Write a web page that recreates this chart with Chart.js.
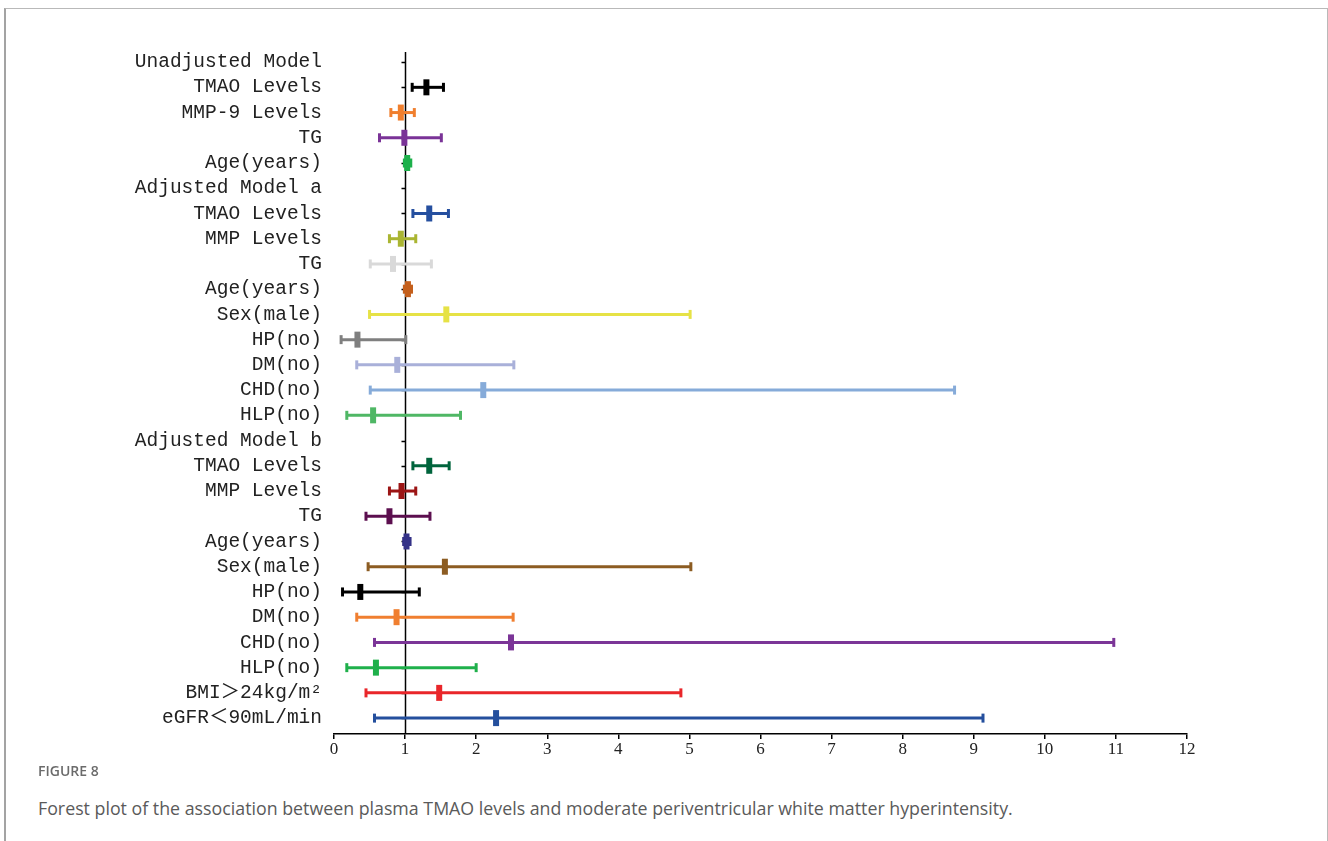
<!DOCTYPE html>
<html>
<head>
<meta charset="utf-8">
<script src="https://cdn.jsdelivr.net/npm/chart.js@4.4.1/dist/chart.umd.min.js"></script>
<style>
  html, body { margin: 0; padding: 0; background: #fff; }
  body { width: 1328px; height: 841px; position: relative; overflow: hidden; }
  .frame {
    position: absolute; left: 4px; top: 8px; width: 1321px; height: 900px;
    border: 1px solid #b9b9b9; border-left: 2px solid #a3a3a3; border-bottom: none;
  }
  #forest { position: absolute; left: 0; top: 0; }
  .fig-no {
    position: absolute; left: 38px; top: 761px;
    font-family: "Open Sans", sans-serif; font-size: 14px; font-weight: 600; color: #6b6b6b;
  }
  .fig-cap {
    position: absolute; left: 38px; top: 796px;
    font-family: "Open Sans", sans-serif; font-size: 17.8px; color: #5a5a5a;
  }
</style>
</head>
<body>
<div class="frame"></div>
<canvas id="forest" width="1328" height="780"></canvas>
<div class="fig-no">FIGURE 8</div>
<div class="fig-cap">Forest plot of the association between plasma TMAO levels and moderate periventricular white matter hyperintensity.</div>

<script>
// rows top to bottom; model headers have no estimate
const rowLabels = [
  "Unadjusted Model", "TMAO Levels", "MMP-9 Levels", "TG", "Age(years)",
  "Adjusted Model a", "TMAO Levels", "MMP Levels", "TG", "Age(years)",
  "Sex(male)", "HP(no)", "DM(no)", "CHD(no)", "HLP(no)",
  "Adjusted Model b", "TMAO Levels", "MMP Levels", "TG", "Age(years)",
  "Sex(male)", "HP(no)", "DM(no)", "CHD(no)", "HLP(no)",
  "BMI＞24kg/m²", "eGFR＜90mL/min"
];
const estimate = [
  null, 1.30, 0.94, 0.99, 1.03,
  null, 1.34, 0.94, 0.83, 1.04,
  1.58, 0.33, 0.89, 2.10, 0.55,
  null, 1.34, 0.95, 0.78, 1.02,
  1.56, 0.37, 0.88, 2.49, 0.59,
  1.48, 2.28
];
const lower = [
  null, 1.10, 0.80, 0.64, 0.99,
  null, 1.11, 0.78, 0.51, 0.99,
  0.50, 0.10, 0.32, 0.51, 0.18,
  null, 1.11, 0.78, 0.45, 0.98,
  0.48, 0.12, 0.32, 0.57, 0.18,
  0.45, 0.57
];
const upper = [
  null, 1.54, 1.13, 1.51, 1.08,
  null, 1.61, 1.15, 1.37, 1.09,
  5.01, 1.01, 2.53, 8.73, 1.78,
  null, 1.62, 1.15, 1.35, 1.07,
  5.02, 1.20, 2.52, 10.97, 2.00,
  4.88, 9.13
];
const xTicks = [0, 1, 2, 3, 4, 5, 6, 7, 8, 9, 10, 11, 12];
const refValue = 1;

const rowColors = [
  null, "#000000", "#f07f2e", "#7a3397", "#1db04b",
  null, "#254f9f", "#aab532", "#d9d9d9", "#c45f1c",
  "#e6e246", "#7f7f7f", "#a9b0d9", "#86abd9", "#4fb765",
  null, "#00643c", "#9c1515", "#5c0f4f", "#343287",
  "#8c5c22", "#000000", "#f07f30", "#7b3597", "#1fb04b",
  "#e9262a", "#244f9d"
];

const datasets = [];

// confidence interval lines with end caps
rowLabels.forEach((name, i) => {
  if (estimate[i] === null) return;
  datasets.push({
    type: "line",
    label: name,
    data: [{ x: lower[i], y: i }, { x: upper[i], y: i }],
    borderColor: rowColors[i],
    borderWidth: 3,
    pointStyle: "line",
    pointRotation: 90,
    pointRadius: 4.5,
    pointBorderWidth: 3,
    pointBorderColor: rowColors[i],
    pointHoverRadius: 4.5,
    order: 1,
    clip: false
  });
});

// point estimates as thick vertical ticks
const pts = [], ptColors = [];
rowLabels.forEach((name, i) => {
  if (estimate[i] === null) return;
  pts.push({ x: estimate[i], y: i });
  ptColors.push(rowColors[i]);
});
datasets.push({
  type: "scatter",
  label: "estimate",
  data: pts,
  pointStyle: "line",
  pointRotation: 90,
  pointRadius: 8,
  pointBorderWidth: 6,
  pointBorderColor: ptColors,
  pointBackgroundColor: ptColors,
  order: 0,
  clip: false
});

// vertical line of no effect, with a small tick at every row
const refLine = {
  id: "refLine",
  beforeDatasetsDraw(chart) {
    const { ctx, chartArea, scales } = chart;
    const px = Math.round(scales.x.getPixelForValue(refValue)) + 0.5;
    ctx.save();
    ctx.strokeStyle = "#000";
    ctx.lineWidth = 1.5;
    ctx.beginPath();
    ctx.moveTo(px, chartArea.top);
    ctx.lineTo(px, chartArea.bottom);
    rowLabels.forEach((_, i) => {
      const py = Math.round(scales.y.getPixelForValue(i)) + 0.5;
      ctx.moveTo(px, py);
      ctx.lineTo(px - 4, py);
    });
    ctx.stroke();
    ctx.restore();
  }
};

new Chart(document.getElementById("forest"), {
  type: "line",
  data: { datasets },
  plugins: [refLine],
  options: {
    responsive: false,
    devicePixelRatio: 1,
    animation: false,
    events: [],
    layout: { padding: { left: 0, right: 141, top: 52, bottom: 16 } },
    plugins: { legend: { display: false }, tooltip: { enabled: false } },
    scales: {
      x: {
        type: "linear",
        position: "bottom",
        min: 0,
        max: 12,
        afterBuildTicks: (s) => { s.ticks = xTicks.map(v => ({ value: v })); },
        afterFit: (s) => { s.height = 30; },
        grid: { drawOnChartArea: false, drawTicks: true, tickLength: 5, color: "#000", lineWidth: 1.5 },
        border: { display: true, color: "#000", width: 1.5 },
        ticks: {
          color: "#222",
          padding: 0,
          font: { family: "'Liberation Serif', serif", size: 17 },
          maxRotation: 0
        }
      },
      y: {
        type: "linear",
        position: "left",
        reverse: true,
        min: -0.4,
        max: 26.63,
        afterBuildTicks: (s) => { s.ticks = rowLabels.map((_, i) => ({ value: i })); },
        afterFit: (s) => { s.width = 334; },
        grid: { display: false, drawTicks: false },
        border: { display: false },
        ticks: {
          color: "#222",
          padding: 12,
          autoSkip: false,
          font: { family: "'Liberation Mono', 'Noto Sans CJK SC', monospace", size: 19.5 },
          callback: (v) => rowLabels[v]
        }
      }
    }
  }
});
</script>
</body>
</html>
